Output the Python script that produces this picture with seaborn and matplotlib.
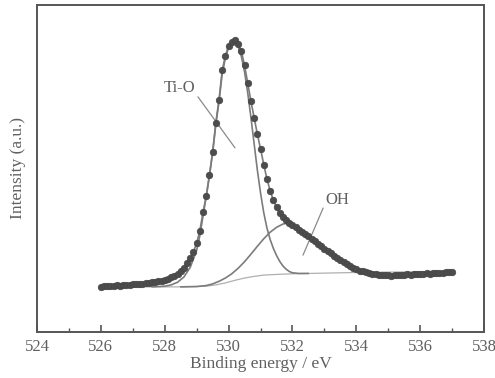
import numpy as np
import pandas as pd
import matplotlib
matplotlib.use("Agg")
import matplotlib.pyplot as plt
from matplotlib.ticker import MultipleLocator
import seaborn as sns

# ---- data ----
energy = np.round(np.arange(526.0, 537.05, 0.1), 1)  # measurement grid (eV)
intensity = [
    0.138, 0.141, 0.140, 0.142, 0.141, 0.143, 0.142, 0.144, 0.145, 0.144,
    0.146, 0.147, 0.146, 0.148, 0.149, 0.150, 0.152, 0.153, 0.155, 0.157,
    0.160, 0.163, 0.167, 0.172, 0.178, 0.186, 0.196, 0.210, 0.226, 0.245,
    0.272, 0.310, 0.367, 0.415, 0.480, 0.550, 0.640, 0.710, 0.800, 0.845,
    0.875, 0.888, 0.893, 0.882, 0.858, 0.815, 0.760, 0.705, 0.655, 0.605,
    0.560, 0.512, 0.468, 0.432, 0.403, 0.381, 0.364, 0.351, 0.341, 0.334,
    0.327, 0.320, 0.313, 0.306, 0.299, 0.292, 0.285, 0.277, 0.270, 0.262,
    0.255, 0.247, 0.240, 0.233, 0.226, 0.219, 0.213, 0.207, 0.201, 0.197,
    0.192, 0.188, 0.185, 0.182, 0.180, 0.178, 0.176, 0.175, 0.174, 0.173,
    0.174, 0.172, 0.174, 0.173, 0.175, 0.174, 0.176, 0.175, 0.177, 0.176,
    0.178, 0.177, 0.179, 0.178, 0.180, 0.179, 0.181, 0.180, 0.182, 0.183,
    0.183,
]

tio_x = [527.6, 527.8, 528.0, 528.2, 528.4, 528.6, 528.8, 529.0, 529.1, 529.2,
         529.3, 529.4, 529.5, 529.6, 529.7, 529.8, 529.9, 530.0, 530.1, 530.2,
         530.3, 530.4, 530.5, 530.6, 530.7, 530.8, 530.9, 531.0, 531.1, 531.2,
         531.3, 531.4, 531.5, 531.6, 531.7, 531.8, 531.9, 532.0, 532.2, 532.5]
tio_y = [0.138, 0.139, 0.140, 0.144, 0.152, 0.168, 0.198, 0.250, 0.295, 0.355,
         0.415, 0.478, 0.548, 0.635, 0.705, 0.790, 0.838, 0.870, 0.886, 0.889,
         0.874, 0.842, 0.795, 0.730, 0.655, 0.575, 0.495, 0.425, 0.365, 0.318,
         0.283, 0.256, 0.234, 0.216, 0.202, 0.192, 0.185, 0.181, 0.179, 0.179]

oh_x = [528.5, 529.0, 529.3, 529.5, 529.7, 529.9, 530.1, 530.3, 530.5, 530.7,
        530.9, 531.1, 531.3, 531.5, 531.7, 531.8, 531.9, 532.0, 532.2, 532.4,
        532.6, 532.8, 533.0, 533.2, 533.4, 533.6, 533.8, 534.0, 534.2, 534.4,
        534.7]
oh_y = [0.138, 0.139, 0.142, 0.147, 0.155, 0.165, 0.178, 0.195, 0.215, 0.238,
        0.262, 0.285, 0.305, 0.320, 0.330, 0.332, 0.330, 0.325, 0.310, 0.296,
        0.281, 0.266, 0.251, 0.236, 0.223, 0.210, 0.199, 0.191, 0.185, 0.182,
        0.181]

bg_x = [526.0, 527.0, 528.0, 528.5, 529.0, 529.3, 529.6, 529.9, 530.2, 530.5,
        530.8, 531.1, 531.5, 532.0, 533.0, 534.0, 535.0, 536.0, 537.0]
bg_y = [0.138, 0.138, 0.138, 0.138, 0.139, 0.140, 0.144, 0.150, 0.158, 0.165,
        0.170, 0.174, 0.176, 0.178, 0.180, 0.182, 0.183, 0.184, 0.185]

xticks = [524, 526, 528, 530, 532, 534, 536, 538]

# ---- plotting ----
sns.set_style("white")
plt.rcParams["font.family"] = ["Liberation Serif", "DejaVu Serif"]

fig = plt.figure(figsize=(4.95, 3.78), dpi=100)
ax = fig.add_axes([0.0747, 0.1217, 0.9033, 0.8653])

line_c = "#7c7c7c"
sns.lineplot(x=bg_x, y=bg_y, ax=ax, color="#b0b0b0", lw=0.9, sort=False)
sns.lineplot(x=tio_x, y=tio_y, ax=ax, color=line_c, lw=1.2, sort=False)
sns.lineplot(x=oh_x, y=oh_y, ax=ax, color=line_c, lw=1.2, sort=False)
sns.lineplot(x=energy, y=intensity, ax=ax, color=line_c, lw=1.2, sort=False)
sns.scatterplot(x=energy, y=intensity, ax=ax, color="#4d4d4d", s=22,
                edgecolor="#454545", linewidth=0.5, zorder=5)

ax.set_xlim(524, 538)
ax.set_ylim(0, 1)
ax.set_xticks(xticks)
ax.xaxis.set_minor_locator(MultipleLocator(1))
ax.set_yticks([])
ax.tick_params(axis="x", which="major", direction="in", length=5, width=1.2,
               colors="#555555", labelcolor="#606060", labelsize=12, pad=5,
               top=False, bottom=True)
ax.tick_params(axis="x", which="minor", direction="in", length=3, width=1.0,
               colors="#555555", top=False, bottom=True)
for sp in ax.spines.values():
    sp.set_visible(True)
    sp.set_color("#555555")
    sp.set_linewidth(1.4)

ax.set_xlabel("Binding energy / eV", fontsize=12.5, color="#606060", labelpad=1)
ax.set_ylabel("Intensity (a.u.)", fontsize=12.5, color="#606060", labelpad=8)

# annotations
ax.text(528.48, 0.746, "Ti-O", fontsize=12, color="#606060", ha="center", va="center")
ax.plot([529.04, 530.2], [0.719, 0.563], color="#8a8a8a", lw=0.9)
ax.text(533.4, 0.404, "OH", fontsize=12, color="#606060", ha="center", va="center")
ax.plot([532.96, 532.33], [0.379, 0.235], color="#8a8a8a", lw=0.9)

fig.savefig("out.png", dpi=100)
